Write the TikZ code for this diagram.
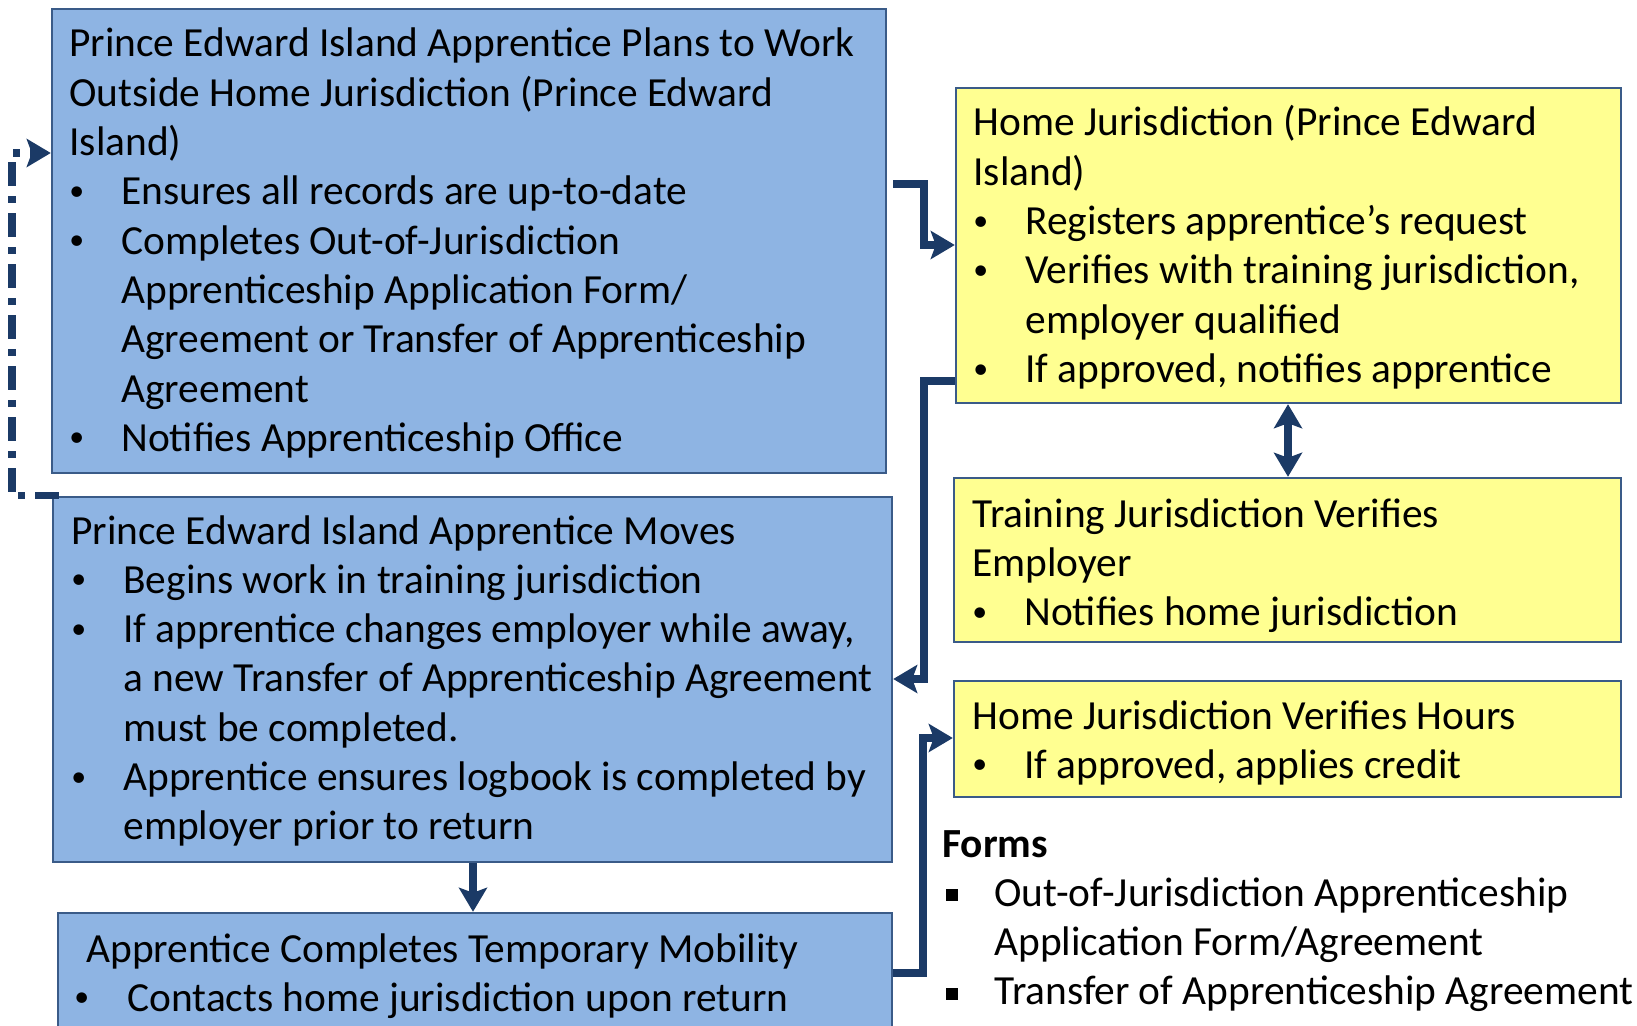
\documentclass[tikz,border=0pt]{standalone}
\usepackage{fontspec}
\setmainfont{Carlito}
\usetikzlibrary{arrows.meta,fit}
\definecolor{bluefill}{HTML}{8EB4E3}
\definecolor{yelfill}{HTML}{FFFF91}
\definecolor{edgecol}{HTML}{3A5B88}
\definecolor{navy}{HTML}{1B3A66}
\newcommand\smallbul{\raisebox{2.2pt}{\scalebox{0.72}{\textbullet}}}
\newcommand\bitem[1]{\par\hangindent=26pt\hangafter=1\noindent\makebox[26pt][l]{\hspace*{0pt}\smallbul}#1\par}
\newcommand\sitem[1]{\par\hangindent=26pt\hangafter=1\noindent\makebox[26pt][l]{\hspace*{2pt}\rule[2.5pt]{6pt}{6pt}}#1\par}
\newcommand\ttl[1]{\par\noindent #1\par}
\newcommand\boxtext[1]{\begin{minipage}[t]{480pt}\raggedright #1\end{minipage}}
\tikzset{
  bluebox/.style={draw=edgecol, line width=1.2pt, fill=bluefill, inner sep=0pt},
  yelbox/.style={draw=edgecol, line width=1.2pt, fill=yelfill, inner sep=0pt},
  txt/.style={anchor=base west, inner sep=0pt, font=\fontsize{20.7}{24.65}\selectfont},
  conn/.style={draw=navy, line width=3.6pt},
  tip/.style={-{Stealth[length=12pt,width=14pt,inset=2.5pt]}},
  dtip/.style={{Stealth[length=12pt,width=14pt,inset=2.5pt]}-{Stealth[length=12pt,width=14pt,inset=2.5pt]}},
  dashdot/.style={dash pattern=on 12pt off 5pt on 3.5pt off 5pt}
}
\begin{document}
\begin{tikzpicture}[x=0.5pt,y=-0.5pt]
\clip (0,0) rectangle (1637,1026);
\fill[white] (0,0) rectangle (1637,1026);

% boxes
\node[bluebox, fit={(52,9) (886,473)}] (A) {};
\node[bluebox, fit={(53,497) (892,862)}] (B) {};
\node[bluebox, fit={(58,913) (892,1045)}] (C) {};
\node[yelbox, fit={(956,88) (1621,403)}] (D) {};
\node[yelbox, fit={(954,478) (1621,642)}] (E) {};
\node[yelbox, fit={(954,681) (1621,797)}] (F) {};

% texts
\node[txt] (At) at (69,57) {\boxtext{%
\ttl{Prince Edward Island Apprentice Plans to Work\newline Outside Home Jurisdiction (Prince Edward\newline Island)}%
\bitem{Ensures all records are up-to-date}%
\bitem{Completes Out-of-Jurisdiction\newline Apprenticeship Application Form/\newline Agreement or Transfer of Apprenticeship\newline Agreement}%
\bitem{Notifies Apprenticeship Office}}};

\node[txt] (Bt) at (71,544) {\boxtext{%
\ttl{Prince Edward Island Apprentice Moves}%
\bitem{Begins work in training jurisdiction}%
\bitem{If apprentice changes employer while away,\newline a new Transfer of Apprenticeship Agreement\newline must be completed.}%
\bitem{Apprentice ensures logbook is completed by\newline employer prior to return}}};

\node[txt] (Ct) at (81,962) {\boxtext{%
\ttl{\hspace*{2.5pt}Apprentice Completes Temporary Mobility}%
\par\noindent\makebox[23pt][l]{\hspace*{-3.5pt}\smallbul}Contacts home jurisdiction upon return\par}};

\node[txt] (Dt) at (973,136) {\boxtext{%
\ttl{Home Jurisdiction (Prince Edward\newline Island)}%
\bitem{Registers apprentice’s request}%
\bitem{Verifies with training jurisdiction,\newline employer qualified}%
\bitem{If approved, notifies apprentice}}};

\node[txt] (Et) at (972,527) {\boxtext{%
\ttl{Training Jurisdiction Verifies\newline Employer}%
\bitem{Notifies home jurisdiction}}};

\node[txt] (Ft) at (972,729) {\boxtext{%
\ttl{Home Jurisdiction Verifies Hours}%
\bitem{If approved, applies credit}}};

\node[txt] (forms) at (942,857) {\boxtext{%
\ttl{\textbf{Forms}}%
\sitem{Out-of-Jurisdiction Apprenticeship\newline Application Form/Agreement}%
\sitem{Transfer of Apprenticeship Agreement}}};

% connectors
\coordinate (c1s) at (893,184);
\coordinate (c1m) at (924,245);
\draw[conn, tip] (c1s) -| (c1m) -- (c1m -| D.west);

\coordinate (c2a) at (924,381);
\coordinate (c2b) at (924,679);
\draw[conn, tip] (c2a -| D.west) -- (c2a) -- (c2b) -- (c2b -| B.east);

\coordinate (c3) at (473,0);
\draw[conn, tip] (c3 |- B.south) -- (c3 |- C.north);

\coordinate (c4) at (1288,0);
\draw[conn, dtip] (c4 |- D.south) -- (c4 |- E.north);

\coordinate (c5a) at (923,973);
\coordinate (c5b) at (923,738);
\draw[conn, tip] (c5a -| C.east) -- (c5a) -- (c5b) -- (c5b -| F.west);

\coordinate (d1) at (12,0);
\coordinate (d2) at (12,153);
\draw[conn, dashdot, tip] ([xshift=3.5pt]B.north west) -- (d1 |- B.north) -- (d2) -- (d2 -| A.west);
\end{tikzpicture}
\end{document}
